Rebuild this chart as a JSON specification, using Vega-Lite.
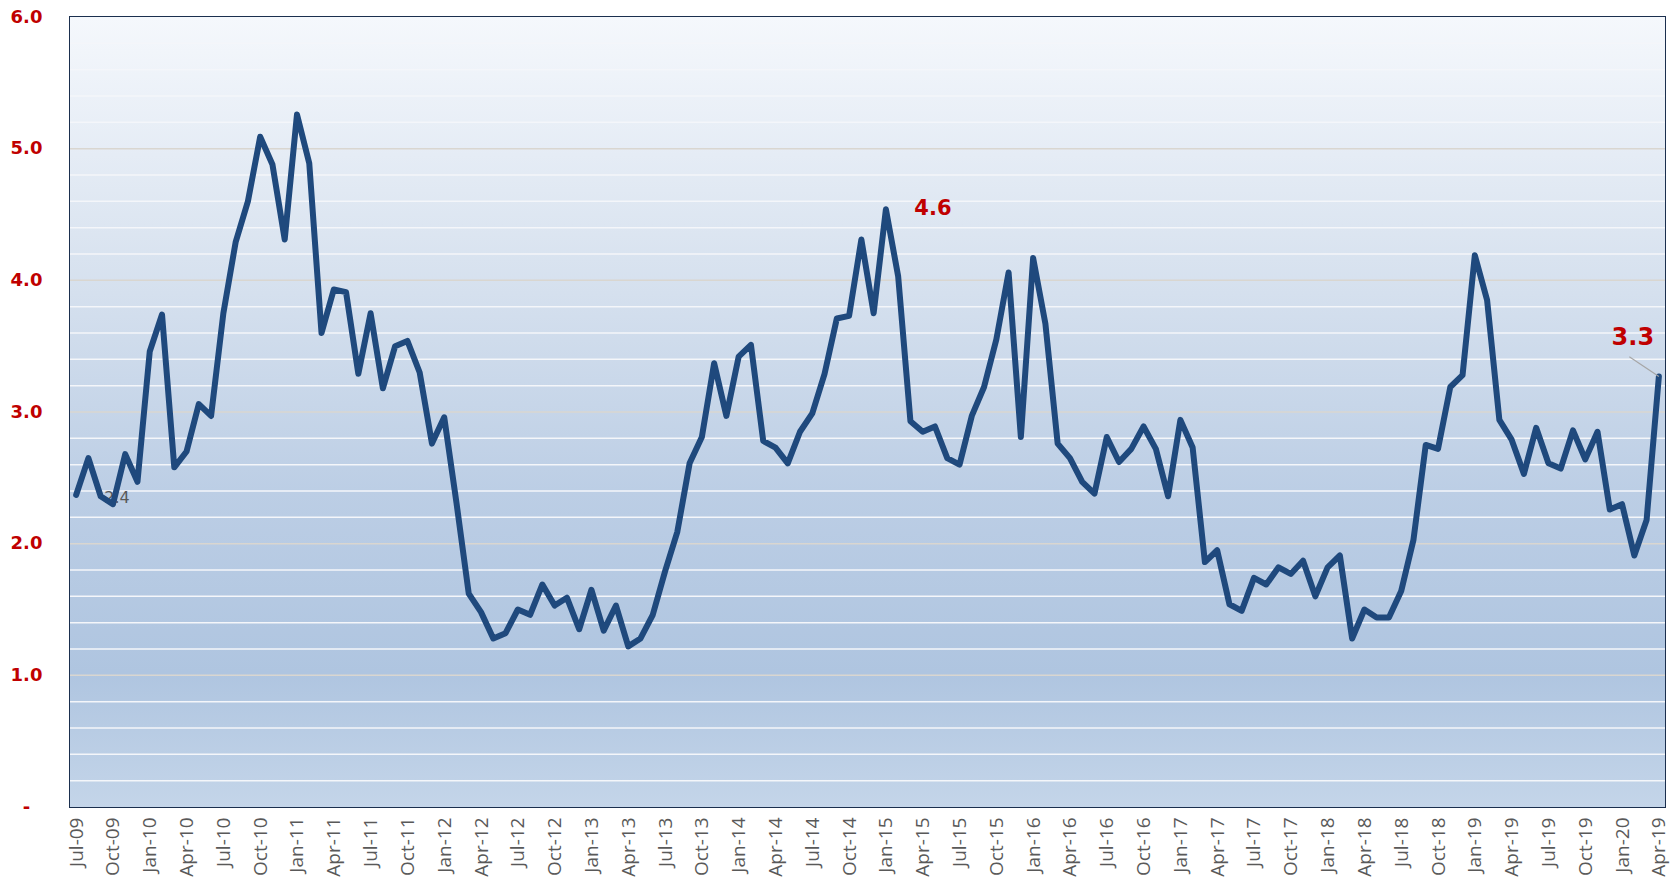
{
  "$schema": "https://vega.github.io/schema/vega-lite/v6.json",
  "width": 1595,
  "height": 790,
  "autosize": {"type": "none"},
  "padding": {"left": 70, "top": 17, "right": 10, "bottom": 73},
  "background": "#ffffff",
  "config": {
    "view": {"stroke": "#1b2f4e", "strokeWidth": 2}
  },
  "datasets": {
    "series": [
      {"m":"Jul-09","v":2.37},{"m":"Aug-09","v":2.65},{"m":"Sep-09","v":2.36},{"m":"Oct-09","v":2.30},{"m":"Nov-09","v":2.68},{"m":"Dec-09","v":2.47},
      {"m":"Jan-10","v":3.46},{"m":"Feb-10","v":3.74},{"m":"Mar-10","v":2.58},{"m":"Apr-10","v":2.70},{"m":"May-10","v":3.06},{"m":"Jun-10","v":2.97},{"m":"Jul-10","v":3.75},{"m":"Aug-10","v":4.29},{"m":"Sep-10","v":4.60},{"m":"Oct-10","v":5.09},{"m":"Nov-10","v":4.88},{"m":"Dec-10","v":4.31},
      {"m":"Jan-11","v":5.26},{"m":"Feb-11","v":4.89},{"m":"Mar-11","v":3.60},{"m":"Apr-11","v":3.93},{"m":"May-11","v":3.91},{"m":"Jun-11","v":3.29},{"m":"Jul-11","v":3.75},{"m":"Aug-11","v":3.18},{"m":"Sep-11","v":3.50},{"m":"Oct-11","v":3.54},{"m":"Nov-11","v":3.30},{"m":"Dec-11","v":2.76},
      {"m":"Jan-12","v":2.96},{"m":"Feb-12","v":2.31},{"m":"Mar-12","v":1.62},{"m":"Apr-12","v":1.48},{"m":"May-12","v":1.28},{"m":"Jun-12","v":1.32},{"m":"Jul-12","v":1.50},{"m":"Aug-12","v":1.46},{"m":"Sep-12","v":1.69},{"m":"Oct-12","v":1.53},{"m":"Nov-12","v":1.59},{"m":"Dec-12","v":1.35},
      {"m":"Jan-13","v":1.65},{"m":"Feb-13","v":1.34},{"m":"Mar-13","v":1.53},{"m":"Apr-13","v":1.22},{"m":"May-13","v":1.28},{"m":"Jun-13","v":1.46},{"m":"Jul-13","v":1.79},{"m":"Aug-13","v":2.09},{"m":"Sep-13","v":2.61},{"m":"Oct-13","v":2.81},{"m":"Nov-13","v":3.37},{"m":"Dec-13","v":2.97},
      {"m":"Jan-14","v":3.42},{"m":"Feb-14","v":3.51},{"m":"Mar-14","v":2.78},{"m":"Apr-14","v":2.73},{"m":"May-14","v":2.61},{"m":"Jun-14","v":2.85},{"m":"Jul-14","v":2.99},{"m":"Aug-14","v":3.29},{"m":"Sep-14","v":3.71},{"m":"Oct-14","v":3.73},{"m":"Nov-14","v":4.31},{"m":"Dec-14","v":3.75},
      {"m":"Jan-15","v":4.54},{"m":"Feb-15","v":4.03},{"m":"Mar-15","v":2.93},{"m":"Apr-15","v":2.85},{"m":"May-15","v":2.89},{"m":"Jun-15","v":2.65},{"m":"Jul-15","v":2.60},{"m":"Aug-15","v":2.97},{"m":"Sep-15","v":3.19},{"m":"Oct-15","v":3.55},{"m":"Nov-15","v":4.06},{"m":"Dec-15","v":2.81},
      {"m":"Jan-16","v":4.17},{"m":"Feb-16","v":3.67},{"m":"Mar-16","v":2.76},{"m":"Apr-16","v":2.65},{"m":"May-16","v":2.47},{"m":"Jun-16","v":2.38},{"m":"Jul-16","v":2.81},{"m":"Aug-16","v":2.62},{"m":"Sep-16","v":2.72},{"m":"Oct-16","v":2.89},{"m":"Nov-16","v":2.72},{"m":"Dec-16","v":2.36},
      {"m":"Jan-17","v":2.94},{"m":"Feb-17","v":2.73},{"m":"Mar-17","v":1.86},{"m":"Apr-17","v":1.95},{"m":"May-17","v":1.54},{"m":"Jun-17","v":1.49},{"m":"Jul-17","v":1.74},{"m":"Aug-17","v":1.69},{"m":"Sep-17","v":1.82},{"m":"Oct-17","v":1.77},{"m":"Nov-17","v":1.87},{"m":"Dec-17","v":1.60},
      {"m":"Jan-18","v":1.82},{"m":"Feb-18","v":1.91},{"m":"Mar-18","v":1.28},{"m":"Apr-18","v":1.50},{"m":"May-18","v":1.44},{"m":"Jun-18","v":1.44},{"m":"Jul-18","v":1.64},{"m":"Aug-18","v":2.03},{"m":"Sep-18","v":2.75},{"m":"Oct-18","v":2.72},{"m":"Nov-18","v":3.19},{"m":"Dec-18","v":3.28},
      {"m":"Jan-19","v":4.19},{"m":"Feb-19","v":3.85},{"m":"Mar-19","v":2.94},{"m":"Apr-19","v":2.79},{"m":"May-19","v":2.53},{"m":"Jun-19","v":2.88},{"m":"Jul-19","v":2.61},{"m":"Aug-19","v":2.57},{"m":"Sep-19","v":2.86},{"m":"Oct-19","v":2.64},{"m":"Nov-19","v":2.85},{"m":"Dec-19","v":2.26},
      {"m":"Jan-20","v":2.30},{"m":"Feb-20","v":1.91},{"m":"Mar-20","v":2.18},{"m":"Apr-20","v":3.27}
    ],
    "grid": [
      {"g":0.2,"major":false},{"g":0.4,"major":false},{"g":0.6,"major":false},{"g":0.8,"major":false},{"g":1,"major":true},
      {"g":1.2,"major":false},{"g":1.4,"major":false},{"g":1.6,"major":false},{"g":1.8,"major":false},{"g":2,"major":true},
      {"g":2.2,"major":false},{"g":2.4,"major":false},{"g":2.6,"major":false},{"g":2.8,"major":false},{"g":3,"major":true},
      {"g":3.2,"major":false},{"g":3.4,"major":false},{"g":3.6,"major":false},{"g":3.8,"major":false},{"g":4,"major":true},
      {"g":4.2,"major":false},{"g":4.4,"major":false},{"g":4.6,"major":false},{"g":4.8,"major":false},{"g":5,"major":true},
      {"g":5.2,"major":false},{"g":5.4,"major":false},{"g":5.6,"major":false},{"g":5.8,"major":false}
    ]
  },
  "layer": [
    {
      "data": {"values": [{"lo": 0, "hi": 6}]},
      "mark": {
        "type": "rect",
        "color": {
          "gradient": "linear", "x1": 0, "y1": 0, "x2": 0, "y2": 1,
          "stops": [
            {"offset": 0, "color": "#f5f8fc"},
            {"offset": 0.35, "color": "#d5e0ee"},
            {"offset": 0.6, "color": "#bccee5"},
            {"offset": 0.83, "color": "#afc5e0"},
            {"offset": 1, "color": "#c4d5e9"}
          ]
        }
      },
      "encoding": {
        "x": {"value": 0},
        "x2": {"value": "width"},
        "y": {
          "field": "hi", "type": "quantitative",
          "scale": {"domain": [0, 6], "nice": false},
          "axis": {
            "title": null,
            "values": [0, 1, 2, 3, 4, 5, 6],
            "labelExpr": "datum.value == 0 ? '-' : format(datum.value, '.1f')",
            "labelFont": "DejaVu Sans",
            "labelFontWeight": "bold",
            "labelFontSize": 18,
            "labelColor": "#c00000",
            "labelAlign": "center",
            "labelPadding": 44,
            "labelOverlap": false,
            "ticks": false,
            "domain": false,
            "grid": false
          }
        },
        "y2": {"field": "lo"}
      }
    },
    {
      "data": {"name": "grid"},
      "mark": {"type": "rule", "strokeWidth": 1.5},
      "encoding": {
        "y": {"field": "g", "type": "quantitative"},
        "color": {"condition": {"test": "datum.major", "value": "#d9d6d0"}, "value": "#f4f6fa"}
      }
    },
    {
      "data": {"values": [{"m": "Oct-09", "v": 2.30, "t": "2.4"}]},
      "mark": {"type": "text", "font": "DejaVu Sans", "fontSize": 16, "color": "#595959", "dx": 4, "dy": -6},
      "encoding": {
        "x": {"field": "m", "type": "nominal", "sort": null},
        "y": {"field": "v", "type": "quantitative"},
        "text": {"field": "t"}
      }
    },
    {
      "data": {"name": "series"},
      "mark": {"type": "line", "color": "#1f497d", "strokeWidth": 6, "strokeJoin": "round", "strokeCap": "round"},
      "encoding": {
        "x": {
          "field": "m", "type": "nominal", "sort": null,
          "scale": {
            "type": "point", "padding": 0.5,
            "domain": ["Jul-09","Aug-09","Sep-09","Oct-09","Nov-09","Dec-09","Jan-10","Feb-10","Mar-10","Apr-10","May-10","Jun-10","Jul-10","Aug-10","Sep-10","Oct-10","Nov-10","Dec-10","Jan-11","Feb-11","Mar-11","Apr-11","May-11","Jun-11","Jul-11","Aug-11","Sep-11","Oct-11","Nov-11","Dec-11","Jan-12","Feb-12","Mar-12","Apr-12","May-12","Jun-12","Jul-12","Aug-12","Sep-12","Oct-12","Nov-12","Dec-12","Jan-13","Feb-13","Mar-13","Apr-13","May-13","Jun-13","Jul-13","Aug-13","Sep-13","Oct-13","Nov-13","Dec-13","Jan-14","Feb-14","Mar-14","Apr-14","May-14","Jun-14","Jul-14","Aug-14","Sep-14","Oct-14","Nov-14","Dec-14","Jan-15","Feb-15","Mar-15","Apr-15","May-15","Jun-15","Jul-15","Aug-15","Sep-15","Oct-15","Nov-15","Dec-15","Jan-16","Feb-16","Mar-16","Apr-16","May-16","Jun-16","Jul-16","Aug-16","Sep-16","Oct-16","Nov-16","Dec-16","Jan-17","Feb-17","Mar-17","Apr-17","May-17","Jun-17","Jul-17","Aug-17","Sep-17","Oct-17","Nov-17","Dec-17","Jan-18","Feb-18","Mar-18","Apr-18","May-18","Jun-18","Jul-18","Aug-18","Sep-18","Oct-18","Nov-18","Dec-18","Jan-19","Feb-19","Mar-19","Apr-19","May-19","Jun-19","Jul-19","Aug-19","Sep-19","Oct-19","Nov-19","Dec-19","Jan-20","Feb-20","Mar-20","Apr-20"]
          },
          "axis": {
            "title": null,
            "values": ["Jul-09","Oct-09","Jan-10","Apr-10","Jul-10","Oct-10","Jan-11","Apr-11","Jul-11","Oct-11","Jan-12","Apr-12","Jul-12","Oct-12","Jan-13","Apr-13","Jul-13","Oct-13","Jan-14","Apr-14","Jul-14","Oct-14","Jan-15","Apr-15","Jul-15","Oct-15","Jan-16","Apr-16","Jul-16","Oct-16","Jan-17","Apr-17","Jul-17","Oct-17","Jan-18","Apr-18","Jul-18","Oct-18","Jan-19","Apr-19","Jul-19","Oct-19","Jan-20","Apr-20"],
            "labelExpr": "datum.value == 'Apr-20' ? 'Apr-19' : datum.value",
            "labelAngle": -90,
            "labelFont": "Liberation Sans Narrow, Open Sans",
            "labelFontSize": 19,
            "labelColor": "#595959",
            "labelPadding": 10,
            "labelOverlap": false,
            "ticks": false,
            "domain": false,
            "grid": false
          }
        },
        "y": {"field": "v", "type": "quantitative"}
      }
    },
    {
      "data": {"values": [{"m": "Jan-15", "v": 4.54, "t": "4.6"}]},
      "mark": {"type": "text", "font": "DejaVu Sans", "fontWeight": "bold", "fontSize": 21, "color": "#c00000", "dx": 47, "dy": 0},
      "encoding": {
        "x": {"field": "m", "type": "nominal", "sort": null},
        "y": {"field": "v", "type": "quantitative"},
        "text": {"field": "t"}
      }
    },
    {
      "data": {"values": [{"m": "Apr-20", "v": 3.27, "m2": "Feb-20", "v2": 3.42}]},
      "mark": {"type": "rule", "color": "#a6a6a6", "strokeWidth": 1.2, "x2Offset": -5},
      "encoding": {
        "x": {"field": "m", "type": "nominal", "sort": null},
        "y": {"field": "v", "type": "quantitative"},
        "x2": {"field": "m2"},
        "y2": {"field": "v2"}
      }
    },
    {
      "data": {"values": [{"m": "Apr-20", "v": 3.27, "t": "3.3"}]},
      "mark": {"type": "text", "font": "DejaVu Sans", "fontWeight": "bold", "fontSize": 24, "color": "#c00000", "dx": -26, "dy": -38},
      "encoding": {
        "x": {"field": "m", "type": "nominal", "sort": null},
        "y": {"field": "v", "type": "quantitative"},
        "text": {"field": "t"}
      }
    }
  ]
}
